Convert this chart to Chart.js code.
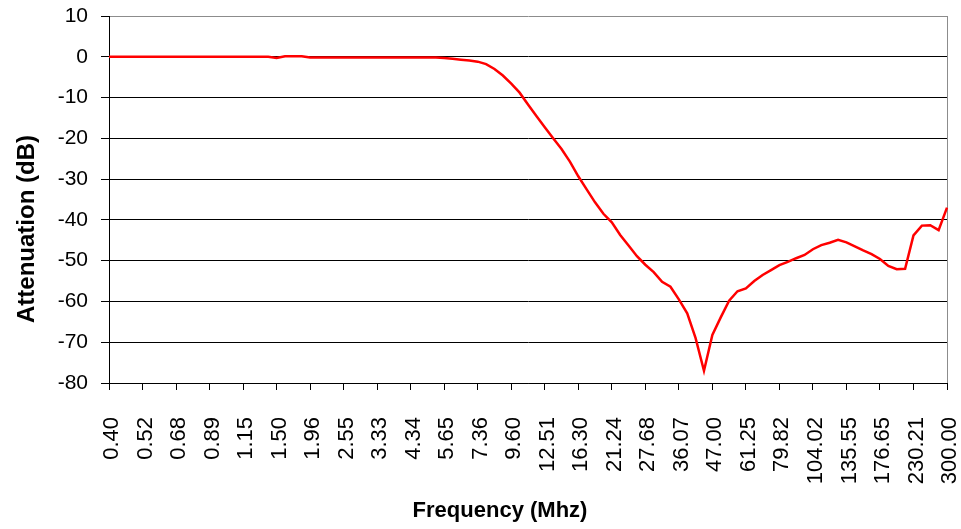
<!DOCTYPE html>
<html>
<head>
<meta charset="utf-8">
<script src="https://cdn.jsdelivr.net/npm/chart.js@4/dist/chart.umd.min.js"></script>
<style>
html,body{margin:0;padding:0;background:#fff;}
#wrap{position:relative;width:961px;height:529px;}
</style>
</head>
<body>
<div id="wrap"><canvas id="c"></canvas></div>
<script>
// Frequency tick labels (MHz), one every 4 samples
const tickLabels = ['0.40','0.52','0.68','0.89','1.15','1.50','1.96','2.55','3.33','4.34','5.65','7.36','9.60',
  '12.51','16.30','21.24','27.68','36.07','47.00','61.25','79.82','104.02','135.55','176.65','230.21','300.00'];
const samplesPerLabel = 4;

// Attenuation (dB), 101 samples
const attenuation = [
  0,0,0,0,0,0,0,0,0,0,
  0,0,0,0,0,0,0,0,0,0,
  -0.3,0.15,0.15,0.15,
  -0.2,-0.2,-0.2,-0.2,-0.2,-0.2,-0.2,-0.2,-0.2,-0.2,-0.2,-0.2,-0.2,-0.2,-0.2,-0.2,
  -0.3,-0.5,-0.7,-0.9,-1.2,-1.8,-3.0,-4.6,-6.6,-8.8,
  -11.7,-14.5,-17.3,-20.0,-22.6,-25.7,-29.3,-32.5,-35.7,-38.5,
  -40.6,-43.7,-46.3,-48.9,-51.0,-52.8,-55.2,-56.4,-59.5,-62.9,
  -69.0,-77.0,-68.2,-63.9,-59.8,-57.5,-56.8,-55.0,-53.5,-52.3,
  -51.1,-50.3,-49.4,-48.6,-47.2,-46.2,-45.6,-44.9,-45.5,-46.5,
  -47.5,-48.4,-49.6,-51.3,-52.1,-52.0,-43.8,-41.4,-41.3,-42.5,
  -37.0
];

const yTitle = 'Attenuation (dB)';
const xTitle = 'Frequency (Mhz)';

const categories = attenuation.map((v, i) => (i % samplesPerLabel === 0 ? tickLabels[i / samplesPerLabel] : ''));

const FONT = '"Liberation Sans", Arial, sans-serif';

function noPad(s) {
  s.paddingLeft = 0; s.paddingRight = 0; s.paddingTop = 0; s.paddingBottom = 0;
}

const extras = {
  id: 'extras',
  beforeDatasetsDraw(chart) {
    const {ctx, chartArea} = chart;
    ctx.save();
    ctx.strokeStyle = '#8c8c8c';
    ctx.lineWidth = 1;
    ctx.beginPath();
    ctx.moveTo(Math.round(chartArea.right) + 0.5, chartArea.top);
    ctx.lineTo(Math.round(chartArea.right) + 0.5, chartArea.bottom);
    ctx.stroke();
    ctx.restore();
  },
  afterDraw(chart) {
    const {ctx} = chart;
    ctx.save();
    ctx.fillStyle = '#000';
    ctx.textAlign = 'center';
    ctx.textBaseline = 'middle';
    ctx.font = 'bold 24px ' + FONT;
    ctx.translate(27, 229);
    ctx.rotate(-Math.PI / 2);
    ctx.fillText(yTitle, 0, 0);
    ctx.restore();
    ctx.save();
    ctx.fillStyle = '#000';
    ctx.textAlign = 'center';
    ctx.textBaseline = 'middle';
    ctx.font = 'bold 22px ' + FONT;
    ctx.fillText(xTitle, 500, 511);
    ctx.restore();
  }
};

new Chart(document.getElementById('c'), {
  type: 'line',
  data: {
    labels: categories,
    datasets: [{
      data: attenuation,
      borderColor: '#ff0000',
      borderWidth: 2.5,
      pointRadius: 0,
      tension: 0,
      fill: false
    }]
  },
  options: {
    responsive: true,
    maintainAspectRatio: false,
    animation: false,
    layout: {padding: {top: 16, right: 14, left: 0, bottom: 0}},
    plugins: {legend: {display: false}, tooltip: {enabled: false}},
    scales: {
      x: {
        type: 'category',
        offset: false,
        ticks: {
          autoSkip: false, maxRotation: 90, minRotation: 90,
          font: {family: FONT, size: 22}, color: '#000', padding: 27, labelOffset: 3
        },
        grid: {
          drawOnChartArea: false,
          tickLength: 7,
          color: (c) => (c.tick && c.tick.label ? '#000' : 'rgba(0,0,0,0)'),
          tickColor: (c) => (c.tick && c.tick.label ? '#000' : 'rgba(0,0,0,0)'),
          tickWidth: 1
        },
        border: {color: '#000', width: 1},
        afterFit: (s) => { s.height = 146; noPad(s); }
      },
      y: {
        min: -80, max: 10,
        ticks: {stepSize: 10, font: {family: FONT, size: 21}, color: '#000', padding: 13},
        grid: {
          color: (c) => (c.tick && c.tick.value === 10 ? '#8c8c8c' : '#000'),
          tickColor: '#000',
          tickLength: 8,
          lineWidth: 1
        },
        border: {color: '#000', width: 1},
        afterFit: (s) => { s.width = 109; noPad(s); }
      }
    }
  },
  plugins: [extras]
});
</script>
</body>
</html>
